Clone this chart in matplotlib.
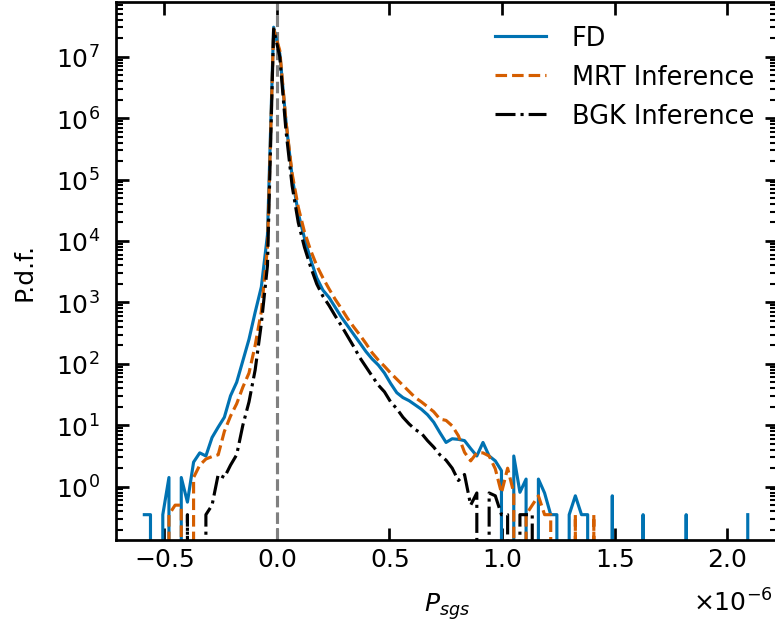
import numpy as np
import matplotlib
matplotlib.use("Agg")
import matplotlib.pyplot as plt

# bin centres of the shared histogram (units of 1e-6)
bin_lo = -0.5893
bin_hi = 2.092
n_bins = 99

# p.d.f. values (0 = empty bin)
fd = [0.35, 0.35, 0, 0.35, 1.41, 0, 1.41, 0.56, 2.51, 3.55,
      3.16, 6.31, 9.33, 13.5, 30.2, 50.1, 112, 251, 692, 1778,
      12590, 3.02e7, 1.12e7, 891000, 112200, 28180, 11220, 5012, 2512, 1585,
      1202, 832, 575, 417, 302, 219, 158, 120, 95.5, 70.8,
      47.9, 33.9, 28.2, 25.1, 21.4, 18.2, 14.8, 11.2, 7.59, 5.25,
      6.03, 5.89, 5.62, 4.17, 3.16, 5.25, 3.16, 2.63, 1.82, 0,
      3.16, 0.81, 1.33, 0, 1.33, 0.79, 0.35, 0.35, 0, 0.35,
      0.71, 0.35, 0.35, 0, 0, 0, 0.71, 0, 0, 0,
      0, 0.35, 0, 0, 0, 0, 0, 0, 0.35, 0,
      0, 0, 0, 0, 0, 0, 0, 0, 0.35]

mrt = [0, 0, 0, 0, 0.35, 0.50, 0.50, 0, 1.41, 2.24,
       2.82, 3.09, 3.31, 7.94, 14.1, 22.4, 41.7, 70.8, 200, 708,
       7943, 2.82e7, 1.26e7, 891000, 125900, 35480, 14130, 7079, 3981, 2512,
       1660, 1122, 794, 550, 398, 295, 214, 151, 115, 91.2,
       70.8, 56.2, 44.7, 35.5, 28.2, 24.0, 20.0, 16.6, 12.6, 12.0,
       9.77, 6.76, 3.63, 2.63, 3.55, 3.55, 3.16, 1.95, 0.79, 2.0,
       0.79, 0, 0.35, 0.50, 0.71, 0.35, 0.35, 0, 0, 0,
       0.35, 0, 0, 0.35, 0, 0, 0, 0, 0, 0,
       0, 0, 0, 0, 0, 0, 0, 0, 0, 0,
       0, 0, 0, 0, 0, 0, 0, 0, 0]

bgk = [0, 0, 0, 0, 0, 0, 0, 0.35, 0, 0,
       0.35, 0.50, 1.58, 1.41, 2.24, 3.31, 10, 24.0, 79.4, 447,
       3981, 2.82e7, 1.0e7, 631000, 79430, 19950, 7943, 3802, 1995, 1259,
       891, 603, 417, 282, 191, 126, 89.1, 63.1, 45.0, 35.0,
       24.0, 18.6, 13.5, 10.5, 8.5, 7.4, 5.6, 4.4, 3.3, 2.7,
       2.0, 1.26, 1.58, 0.50, 0.79, 0, 0.79, 0.71, 0.35, 0.35,
       0, 0.35, 0.35, 0.35, 0, 0, 0, 0, 0, 0,
       0, 0, 0, 0, 0, 0, 0, 0, 0, 0,
       0, 0, 0, 0, 0, 0, 0, 0, 0, 0,
       0, 0, 0, 0, 0, 0, 0, 0, 0]

labels = ["FD", "MRT Inference", "BGK Inference"]
colors = ["#0072B2", "#D55E00", "black"]
styles = ["-", "--", "-."]

x = np.linspace(bin_lo, bin_hi, n_bins) * 1e-6

plt.rcParams["font.size"] = 12
fig = plt.figure(figsize=(775 / 150, 626 / 150), dpi=150)
ax = fig.add_axes([0.1503, 0.1358, 0.8523, 0.8594])

ax.axvline(0, color="gray", ls="--", lw=1.5)
for y, lab, c, ls in zip([fd, mrt, bgk], labels, colors, styles):
    ax.plot(x, y, color=c, ls=ls, lw=1.5, label=lab)

ax.set_yscale("log")
ax.set_xlim(-0.713e-6, 2.222e-6)
ax.set_ylim(0.1355, 7.77e7)
ax.ticklabel_format(axis="x", style="sci", scilimits=(0, 0), useMathText=True)
ax.xaxis.get_offset_text().set_visible(False)
fig.text(773 / 775, 1 - 603 / 626, r"$\times10^{-6}$", ha="right", va="center")

ax.tick_params(which="both", direction="in", top=True, right=True)
ax.tick_params(which="major", length=6, width=1.3)
ax.tick_params(which="minor", length=3.4, width=1.0)
ax.tick_params(axis="y", which="major", pad=8)
for sp in ax.spines.values():
    sp.set_linewidth(1.3)

ax.set_xlabel(r"$P_{sgs}$", labelpad=9)
ax.set_ylabel("P.d.f.", labelpad=9)
ax.legend(loc="upper right", frameon=False, fontsize=12.3,
          handletextpad=1.0, borderaxespad=0.5)

fig.savefig("out.png", dpi=150)
